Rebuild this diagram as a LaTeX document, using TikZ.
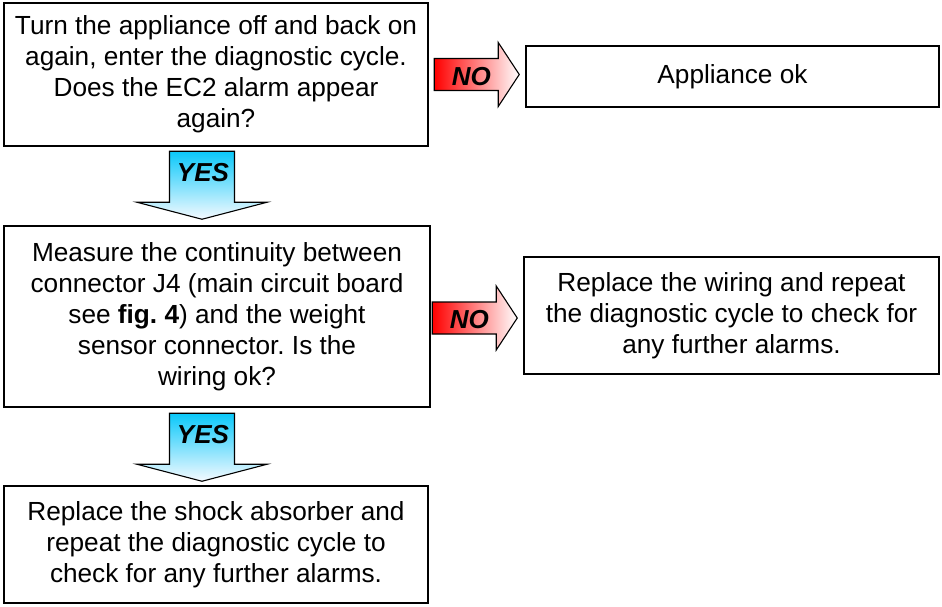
\documentclass[tikz,border=0pt]{standalone}
\usepackage{fontspec}
\setmainfont{Liberation Sans}
\usetikzlibrary{calc}
\frenchspacing

\definecolor{noRed}{RGB}{255,0,0}
\definecolor{yesBlue}{RGB}{10,200,250}
\definecolor{yesPale}{RGB}{245,250,255}

\tikzset{
  x=1pt, y=-1pt,
  stepbox/.style={draw=black, line width=1.5pt, fill=white, align=center,
    inner sep=0pt, font=\fontsize{26.2}{31}\selectfont},
  tag/.style={font=\fontsize{26}{26}\selectfont\bfseries\itshape, inner sep=0pt},
  % block arrow pointing right, origin at its tip
  noarrow/.pic={
    \path[draw=black, line width=1.1pt, line join=miter,
          left color=noRed, right color=white]
      (-85,-16) -- (-21,-16) -- (-21,-32) -- (0,0) -- (-21,32) -- (-21,16)
      -- (-85,16) -- cycle;
    \node[tag] (-label) at (-48,2) {NO};
  },
  % block arrow pointing down, origin at its tip
  yesarrow/.pic={
    \path[draw=black, line width=1.1pt, line join=miter,
          top color=yesBlue, bottom color=yesPale]
      (-32.5,-68) -- (32.5,-68) -- (32.5,-17) -- (65,-17) -- (0,0)
      -- (-65,-17) -- (-32.5,-17) -- cycle;
    \node[tag] (-label) at (1,-47) {YES};
  }
}

\begin{document}
\begin{tikzpicture}
\useasboundingbox (0,0) rectangle (942,606);

% decision and action boxes
\node[stepbox, minimum width=424pt, minimum height=143pt] (restart) at (216,74.5)
  {Turn the appliance off and back on\\again, enter the diagnostic cycle.\\Does the EC2 alarm appear\\again?};
\node[stepbox, minimum width=413pt, minimum height=61pt] (ok) at (732.5,76.5)
  {Appliance ok};
\node[stepbox, minimum width=426pt, minimum height=181pt] (measure) at (217,316.5)
  {Measure the continuity between\\connector J4 (main circuit board\\see \textbf{fig. 4}) and the weight\\sensor connector. Is the\\wiring ok?};
\node[stepbox, minimum width=415pt, minimum height=117pt] (wiring) at (731.5,315.5)
  {Replace the wiring and repeat\\the diagnostic cycle to check for\\any further alarms.};
\node[stepbox, minimum width=424pt, minimum height=117pt] (absorber) at (216,544.5)
  {Replace the shock absorber and\\repeat the diagnostic cycle to\\check for any further alarms.};

% answer arrows between the boxes
\pic (noA) at ($(ok.west)+(-6,-2)$) {noarrow};
\pic (yesA) at ($(measure.north)+(-15,-6)$) {yesarrow};
\pic (noB) at ($(wiring.west)+(-6,2.5)$) {noarrow};
\pic (yesB) at ($(absorber.north)+(-14,-4)$) {yesarrow};
\end{tikzpicture}
\end{document}
